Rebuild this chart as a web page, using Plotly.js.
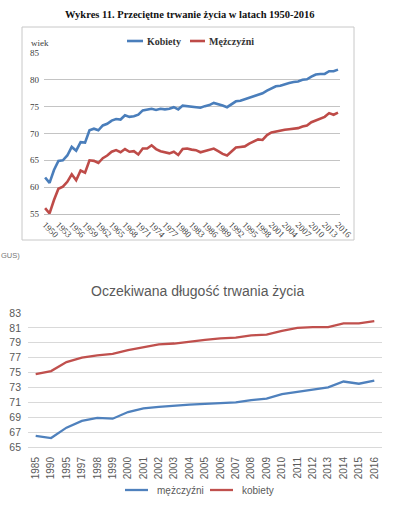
<!DOCTYPE html>
<html><head><meta charset="utf-8">
<script src="https://cdn.plot.ly/plotly-3.0.1.min.js"></script>
<style>html,body{margin:0;padding:0;background:#fff;}#chart{width:400px;height:509px;}</style>
</head><body><div id="chart"></div>
<script>
// ---- Top chart: Wykres 11 (1950-2016) ----
const topTitle = "Wykres 11. Przeciętne trwanie życia w latach 1950-2016";
const topYears = [1950,1951,1952,1953,1954,1955,1956,1957,1958,1959,1960,1961,1962,1963,1964,1965,1966,1967,1968,1969,1970,1971,1972,1973,1974,1975,1976,1977,1978,1979,1980,1981,1982,1983,1984,1985,1986,1987,1988,1989,1990,1991,1992,1993,1994,1995,1996,1997,1998,1999,2000,2001,2002,2003,2004,2005,2006,2007,2008,2009,2010,2011,2012,2013,2014,2015,2016];
const topWomen = [61.8,60.8,63.2,64.9,65.0,65.9,67.5,66.8,68.4,68.3,70.6,70.9,70.6,71.5,71.8,72.4,72.7,72.6,73.4,73.1,73.2,73.5,74.3,74.5,74.6,74.4,74.6,74.5,74.6,74.9,74.5,75.2,75.1,75.0,74.9,74.8,75.1,75.3,75.7,75.5,75.2,74.9,75.5,76.0,76.1,76.4,76.6,77.0,77.3,77.5,78.0,78.4,78.8,78.9,79.2,79.4,79.6,79.7,80.0,80.1,80.6,81.0,81.1,81.1,81.6,81.6,81.9];
const topMen = [56.1,55.1,57.6,59.7,60.1,61.0,62.4,61.3,63.1,62.7,65.0,64.9,64.5,65.4,65.9,66.6,66.9,66.5,67.1,66.6,66.7,66.1,67.2,67.2,67.8,67.1,66.7,66.5,66.3,66.6,66.0,67.1,67.2,67.0,66.9,66.5,66.7,66.9,67.2,66.7,66.2,65.9,66.7,67.4,67.5,67.6,68.1,68.5,68.9,68.8,69.7,70.2,70.4,70.5,70.7,70.8,70.9,71.0,71.3,71.5,72.1,72.4,72.7,73.1,73.8,73.5,73.9];
const topTickYears = [1950,1953,1956,1959,1962,1965,1968,1971,1974,1977,1980,1983,1986,1989,1992,1995,1998,2001,2004,2007,2010,2013,2016];
const topYTicks = [55,60,65,70,75,80,85];
const topNames = ["Kobiety","Mężczyźni"];
const topYLabel = "wiek";
const sourceNote = "GUS)";

// ---- Bottom chart: Oczekiwana długość trwania życia ----
const botTitle = "Oczekiwana długość trwania życia";
const botYears = ["1985","1990","1995","1997","1998","1999","2000","2001","2002","2003","2004","2005","2006","2007","2008","2009","2010","2011","2012","2013","2014","2015","2016"];
const botMen = [66.5,66.2,67.6,68.5,68.9,68.8,69.7,70.2,70.4,70.5,70.7,70.8,70.9,71.0,71.3,71.5,72.1,72.4,72.7,73.0,73.8,73.5,73.9];
const botWomen = [74.8,75.2,76.4,77.0,77.3,77.5,78.0,78.4,78.8,78.9,79.2,79.4,79.6,79.7,80.0,80.1,80.6,81.0,81.1,81.1,81.6,81.6,81.9];
const botYTicks = [65,67,69,71,73,75,77,79,81,83];
const botNames = ["mężczyźni","kobiety"];

const W = 400, H = 509;
const fx = x => x / W;
const fy = y => 1 - y / H;

const BLUE = "#4A7EBB", RED = "#BE4B48";
const BLUE2 = "#4F81BD", RED2 = "#C0504D";
const SERIF = "Liberation Serif, DejaVu Serif, serif";
const SANS = "Liberation Sans, Arial, sans-serif";

const traces = [
  {x: topYears, y: topWomen, name: topNames[0], type: "scatter", mode: "lines",
   line: {color: BLUE, width: 2.6}, xaxis: "x", yaxis: "y", showlegend: false},
  {x: topYears, y: topMen, name: topNames[1], type: "scatter", mode: "lines",
   line: {color: RED, width: 2.6}, xaxis: "x", yaxis: "y", showlegend: false},
  {x: botYears, y: botMen, name: botNames[0], type: "scatter", mode: "lines",
   line: {color: BLUE2, width: 2.3}, xaxis: "x2", yaxis: "y2", showlegend: false},
  {x: botYears, y: botWomen, name: botNames[1], type: "scatter", mode: "lines",
   line: {color: RED2, width: 2.3}, xaxis: "x2", yaxis: "y2", showlegend: false}
];

const layout = {
  width: W, height: H,
  margin: {l: 0, r: 0, t: 0, b: 0},
  paper_bgcolor: "#fff", plot_bgcolor: "#fff",
  showlegend: false,
  xaxis: {
    domain: [fx(44), fx(340)], anchor: "y",
    range: [1949.75, 2016.45],
    tickmode: "array", tickvals: topTickYears, ticktext: topTickYears.map(String),
    tickangle: 45, ticks: "", showgrid: false, zeroline: false,
    showline: true, linecolor: "#bfbfbf", linewidth: 1,
    tickfont: {family: SERIF, size: 9, color: "#404040"},
    ticklabelstandoff: 1
  },
  yaxis: {
    domain: [fy(214), fy(53)], anchor: "x",
    range: [55, 85], tickmode: "array", tickvals: topYTicks,
    ticks: "", showgrid: true, gridcolor: "#c4c4c4", gridwidth: 1, zeroline: false,
    showline: false,
    tickfont: {family: SERIF, size: 9, color: "#404040"},
    ticklabelstandoff: 4
  },
  xaxis2: {
    domain: [fx(28), fx(382)], anchor: "y2", type: "category",
    categoryorder: "array", categoryarray: botYears,
    range: [-0.5, botYears.length - 0.5],
    tickangle: -90, ticks: "", showgrid: false, zeroline: false,
    showline: true, linecolor: "#d9d9d9", linewidth: 1,
    tickfont: {family: SANS, size: 10, color: "#595959"},
    ticklabelstandoff: 5
  },
  yaxis2: {
    domain: [fy(447), fy(313)], anchor: "x2",
    range: [65, 83], tickmode: "array", tickvals: botYTicks,
    ticks: "", showgrid: true, gridcolor: "#d9d9d9", gridwidth: 1, zeroline: false,
    showline: false,
    tickfont: {family: SANS, size: 10.5, color: "#595959"},
    ticklabelstandoff: 6
  },
  shapes: [
    {type: "rect", xref: "paper", yref: "paper", x0: fx(22), x1: fx(354), y0: fy(240), y1: fy(27),
     line: {color: "#c8c8c8", width: 1}, fillcolor: "rgba(0,0,0,0)"},
    {type: "line", xref: "paper", yref: "paper", x0: fx(127), x1: fx(143), y0: fy(41), y1: fy(41), line: {color: BLUE, width: 2.6}},
    {type: "line", xref: "paper", yref: "paper", x0: fx(190), x1: fx(205), y0: fy(41), y1: fy(41), line: {color: RED, width: 2.6}},
    {type: "line", xref: "paper", yref: "paper", x0: fx(125), x1: fx(148), y0: fy(490), y1: fy(490), line: {color: BLUE2, width: 2.3}},
    {type: "line", xref: "paper", yref: "paper", x0: fx(210), x1: fx(233), y0: fy(490), y1: fy(490), line: {color: RED2, width: 2.3}}
  ],
  annotations: [
    {text: "<b>" + topTitle + "</b>", xref: "paper", yref: "paper", x: fx(190), y: fy(15),
     xanchor: "center", yanchor: "middle", showarrow: false, font: {family: SERIF, size: 10.5, color: "#111"}},
    {text: "<b>" + topNames[0] + "</b>", xref: "paper", yref: "paper", x: fx(145), y: fy(41),
     xanchor: "left", yanchor: "middle", showarrow: false, font: {family: SERIF, size: 10, color: "#333"}},
    {text: "<b>" + topNames[1] + "</b>", xref: "paper", yref: "paper", x: fx(207), y: fy(41),
     xanchor: "left", yanchor: "middle", showarrow: false, font: {family: SERIF, size: 10, color: "#333"}},
    {text: topYLabel, xref: "paper", yref: "paper", x: fx(29), y: fy(43),
     xanchor: "left", yanchor: "middle", showarrow: false, font: {family: SERIF, size: 9, color: "#404040"}},
    {text: sourceNote, xref: "paper", yref: "paper", x: fx(-1), y: fy(255),
     xanchor: "left", yanchor: "middle", showarrow: false, font: {family: SANS, size: 7.5, color: "#777"}},
    {text: botTitle, xref: "paper", yref: "paper", x: fx(197), y: fy(291),
     xanchor: "center", yanchor: "middle", showarrow: false, font: {family: SANS, size: 14, color: "#595959"}},
    {text: botNames[0], xref: "paper", yref: "paper", x: fx(155), y: fy(490),
     xanchor: "left", yanchor: "middle", showarrow: false, font: {family: SANS, size: 10, color: "#595959"}},
    {text: botNames[1], xref: "paper", yref: "paper", x: fx(240), y: fy(490),
     xanchor: "left", yanchor: "middle", showarrow: false, font: {family: SANS, size: 10, color: "#595959"}}
  ]
};

Plotly.newPlot("chart", traces, layout, {displayModeBar: false, staticPlot: true});
</script>
</body></html>
